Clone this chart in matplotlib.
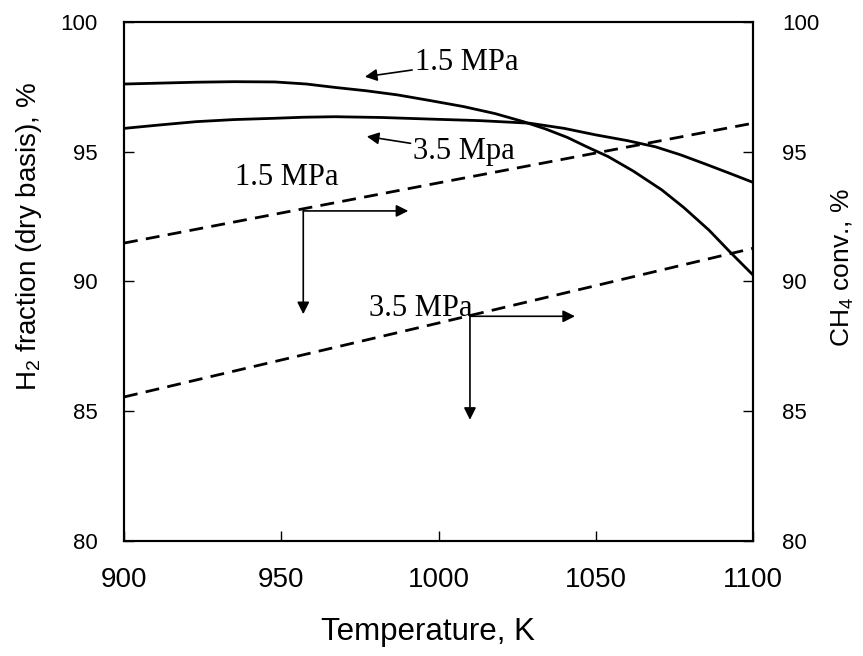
import matplotlib
matplotlib.use("Agg")
import matplotlib.pyplot as plt

# Temperature, K and H2 fraction (dry basis), % - solid lines
temp_h2_15 = [900, 923, 935, 948, 958, 967, 977, 987, 997, 1008, 1018, 1027, 1034,
              1041, 1047, 1054, 1062, 1071, 1078, 1086, 1093, 1100]
h2_15 = [97.61, 97.68, 97.70, 97.69, 97.61, 97.48, 97.35, 97.19, 96.98, 96.74, 96.47,
         96.16, 95.88, 95.55, 95.20, 94.81, 94.25, 93.53, 92.85, 91.98, 91.10, 90.25]
temp_h2_35 = [900, 912, 923, 935, 948, 957, 967, 982, 997, 1013, 1029, 1040, 1050,
              1060, 1069, 1077, 1085, 1093, 1100]
h2_35 = [95.90, 96.04, 96.16, 96.24, 96.29, 96.33, 96.35, 96.32, 96.26, 96.20, 96.10,
         95.90, 95.65, 95.43, 95.19, 94.88, 94.52, 94.15, 93.82]

# CH4 conversion, % - dashed lines
temp_ch4 = [900, 1000, 1100]
ch4_15 = [91.48, 93.8, 96.10]
ch4_35 = [85.55, 88.4, 91.28]

plt.rcParams['font.family'] = ['Liberation Sans', 'DejaVu Sans']
plt.rcParams['mathtext.fontset'] = 'custom'
plt.rcParams['mathtext.rm'] = 'Liberation Sans'
plt.rcParams['mathtext.it'] = 'Liberation Sans'

fig = plt.figure(figsize=(8.63, 6.56), dpi=100)
ax = fig.add_axes([124 / 863, 1 - 541 / 656, 629 / 863, 519 / 656])
ax2 = ax.twinx()

ax.plot(temp_h2_15, h2_15, color='black', lw=2, solid_joinstyle='round')
ax.plot(temp_h2_35, h2_35, color='black', lw=2, solid_joinstyle='round')
ax2.plot(temp_ch4, ch4_15, color='black', lw=2, dashes=(5, 3))
ax2.plot(temp_ch4, ch4_35, color='black', lw=2, dashes=(5, 3))

for a in (ax, ax2):
    a.set_xlim(900, 1100)
    a.set_ylim(80, 100)
    a.set_yticks([80, 85, 90, 95, 100])
    for s in a.spines.values():
        s.set_linewidth(1.5)

ax.set_xticks([900, 950, 1000, 1050, 1100])
ax.tick_params(axis='x', direction='in', length=7, width=1, labelsize=20, pad=19)
ax.tick_params(axis='y', direction='in', length=7, width=1, labelsize=16, pad=19)
ax2.tick_params(axis='y', direction='in', length=7, width=1, labelsize=16, pad=21)

ax.set_xlabel('Temperature, K', fontsize=22.5)
ax.set_ylabel(r'H$_2$ fraction (dry basis), %', fontsize=20)
ax2.set_ylabel(r'CH$_4$ conv., %', fontsize=19)
ax.yaxis.set_label_coords(-0.127, 0.587)
ax2.yaxis.set_label_coords(1.122, 0.527)
ax.xaxis.set_label_coords(0.483, -0.146)

serif = dict(family='Liberation Serif', fontsize=22)
arrow = dict(arrowstyle='-|>', color='black', lw=1.2, mutation_scale=18, shrinkA=0, shrinkB=0)

ax.annotate('1.5 MPa', xy=(976.6, 97.89), xytext=(992.5, 98.45), ha='left', va='center',
            arrowprops=arrow, **serif)
ax.annotate('3.5 Mpa', xy=(977.2, 95.59), xytext=(992.0, 95.0), ha='left', va='center',
            arrowprops=arrow, **serif)

ax.text(935.3, 94.0, '1.5 MPa', ha='left', va='center', **serif)
ax.annotate('', xy=(990.4, 92.72), xytext=(957.0, 92.72), arrowprops=arrow)
ax.annotate('', xy=(957.0, 88.74), xytext=(957.0, 92.72), arrowprops=arrow)

ax.text(978.0, 88.95, '3.5 MPa', ha='left', va='center', **serif)
ax.annotate('', xy=(1043.4, 88.66), xytext=(1010.0, 88.66), arrowprops=arrow)
ax.annotate('', xy=(1010.0, 84.67), xytext=(1010.0, 88.66), arrowprops=arrow)

fig.savefig('out.png', dpi=100)
